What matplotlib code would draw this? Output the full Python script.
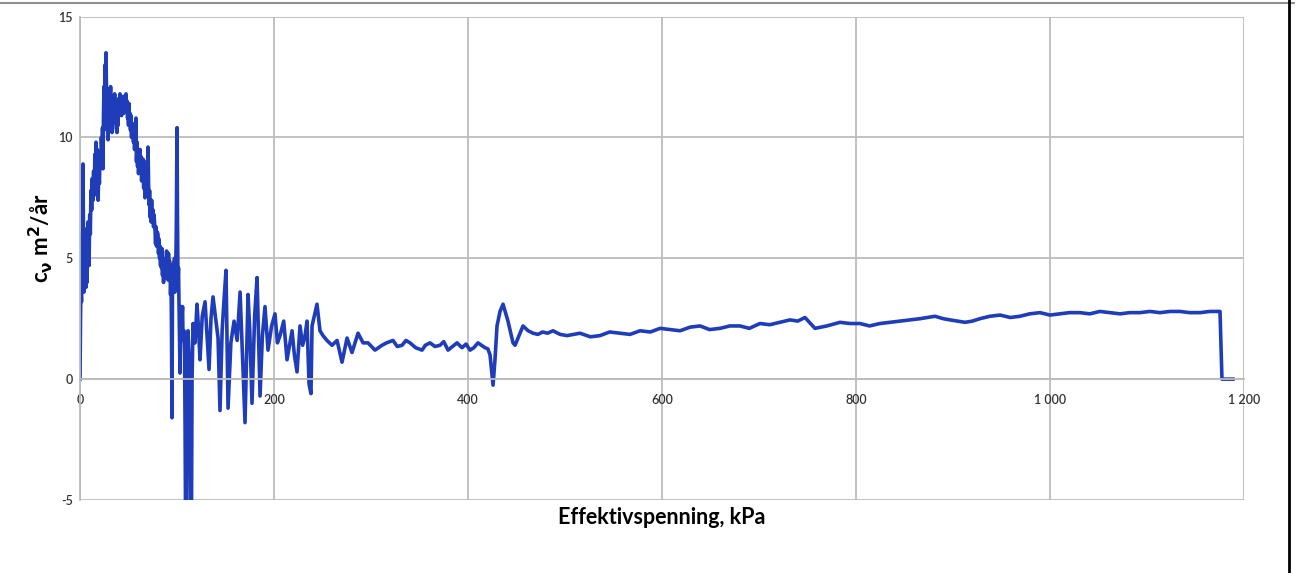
#%% Import modules
import matplotlib.pyplot as plt
from matplotlib.lines import Line2D

#%% Data (effective stress kPa, cv m2/year)
# start of test, steep noisy rise and fall
stress_a = [0, 0.5, 1.0, 1.5, 2.0, 2.6, 3.1, 3.6, 4.1, 4.6, 5.2, 5.7, 6.2, 6.8, 7.2,
            8.2, 8.8, 9.3, 10.0, 10.6, 11.3, 12.0, 12.6, 13.4, 14.0, 14.6, 15.3, 16.0,
            16.5, 17.2, 17.8, 18.6, 19.3, 20.0, 20.6, 21.3, 22.0, 22.7, 23.2, 23.7, 24.2,
            24.7, 25.3, 25.8, 26.3, 26.8, 27.3, 27.8, 28.3, 28.9, 29.4, 29.9, 30.4, 30.9,
            31.5, 32.0, 32.5, 33.0, 33.6, 34.1, 34.6, 35.1, 35.7, 36.2, 36.7, 37.2, 38.1,
            38.7, 39.2, 39.7, 40.2, 41.2, 41.8, 42.3, 42.8, 43.3, 44.3, 44.8, 45.3, 45.8,
            46.4, 47.4, 47.9, 48.5, 49.0, 49.5, 50.0, 50.5, 51.0, 51.5, 52.0, 52.6, 53.1,
            53.6, 54.6, 55.1, 55.7, 56.2, 56.7, 57.7, 58.2, 58.8, 59.3, 59.8, 60.3, 61.0,
            61.9, 62.4, 63.0, 63.5, 64.0, 64.5, 65.0, 65.6, 66.1, 67.0, 67.6, 68.1, 68.6,
            69.1, 70.1, 70.7, 71.2, 71.7, 72.2, 72.8, 73.3, 73.8, 74.3, 75.3, 75.8, 76.3,
            77.3, 77.9, 78.4, 78.9, 79.4, 80.4, 80.9, 81.4, 82.0, 82.5, 83.0, 83.5, 84.0,
            84.5, 85.0, 85.6, 86.1, 86.6, 87.6, 88.2, 88.7, 89.2, 89.7, 90.2, 90.7, 91.2,
            91.7, 92.2, 92.8, 93.3, 93.8, 94.3, 94.8, 95.3, 95.8, 96.4, 96.9, 97.4, 97.9,
            98.5, 99.2, 100.0, 100.5, 101.0, 101.5, 102.0, 102.5, 103.1, 103.6, 104.1,
            104.7, 105.2, 105.7, 106.2, 107.2, 107.8, 108.3, 108.8, 109.8, 110.3, 111.3,
            112.3, 113.4, 114.0, 114.9, 115.5]
cv_a = [0, 2.5, 4.0, 3.2, 6.0, 5.0, 8.9, 5.5, 3.6, 5.8, 4.4, 6.2, 3.8, 5.5, 4.0,
        6.5, 5.4, 4.7, 6.8, 6.0, 7.8, 7.0, 8.3, 7.4, 8.6, 7.6, 9.3, 8.4,
        9.8, 8.6, 9.5, 7.4, 8.5, 8.1, 9.4, 8.8, 10.0, 9.3, 10.4, 8.7, 11.0,
        12.1, 11.3, 13.0, 12.2, 13.5, 12.0, 10.3, 11.2, 9.9, 11.5, 10.6, 12.0, 11.0,
        12.1, 10.9, 11.5, 10.2, 11.2, 10.6, 11.7, 11.0, 11.8, 10.8, 11.4, 10.4, 10.2,
        11.0, 10.5, 11.6, 10.9, 11.8, 11.1, 11.6, 10.9, 11.5, 11.3, 11.7, 11.0, 11.6,
        11.2, 11.8, 11.2, 11.5, 10.8, 11.1, 10.5, 11.4, 10.6, 11.0, 10.3, 10.9, 10.0,
        10.6, 10.5, 9.8, 10.4, 9.5, 10.0, 10.8, 9.0, 9.8, 8.8, 9.4, 8.5, 9.2,
        9.5, 8.6, 9.2, 8.2, 9.0, 8.3, 9.1, 7.9, 8.5, 7.5, 8.3, 7.6, 9.0,
        8.0, 9.6, 8.0, 7.2, 7.8, 6.7, 7.3, 6.5, 7.4, 6.6, 7.0, 6.3, 6.8,
        6.2, 5.6, 6.3, 5.5, 6.1, 6.0, 5.2, 5.8, 5.0, 5.5, 4.7, 5.3, 4.6,
        5.4, 4.3, 4.9, 4.0, 4.7, 4.2, 5.0, 4.4, 5.3, 4.6, 5.0, 4.1, 5.2,
        4.3, 4.9, 4.5, 3.5, 4.2, 2.0, -1.6, 3.5, 4.0, 4.8, 4.2, 5.0, 3.6,
        4.2, 6.0, 10.4, 6.5, 4.0, 4.6, 3.3, 2.0, 0.25, 2.2, 3.0,
        1.6, 2.6, 3.0, 1.6, 2.0, 1.0, -2.0, -5.8, -5.8, 0.5, 2.0,
        1.0, -2.0, -5.8, -5.8, 0.0]

# unstable oscillating part
stress_b = [116.5, 118.5, 120.6, 122.0, 123.7, 126.0, 128.9, 131.0, 133.0, 135.0, 137.1,
            139.5, 142.3, 144.3, 146.5, 148.5, 150.5, 152.6, 155.5, 158.8, 162.0, 165.0,
            167.5, 170.1, 173.2, 175.0, 177.3, 180.0, 182.5, 185.6, 188.0, 190.7, 193.8,
            197.5, 201.0, 203.5, 206.2, 210.0, 213.4, 218.6, 221.0, 223.7, 226.8, 229.5,
            232.0, 234.0, 236.1, 238.1, 239.2, 241.5, 244.3, 247.4]
cv_b = [2.3, 1.5, 3.1, 2.2, 0.8, 2.6, 3.2, 1.8, 0.4, 2.5, 3.4,
        2.6, 1.7, -1.3, 2.0, 3.3, 4.5, -1.2, 1.5, 2.4, 1.6, 3.6,
        1.0, -1.8, 3.5, 2.0, -1.0, 2.6, 4.2, -0.7, 1.8, 3.0, 1.2,
        2.2, 2.7, 1.5, 1.8, 2.4, 0.8, 2.0, 1.0, 0.3, 2.2, 1.4,
        1.8, 2.4, -0.2, -0.6, 2.2, 2.6, 3.1, 2.0]

# settling part and the jump near 430 kPa
stress_c = [250.5, 254.6, 259.8, 265.0, 270.1, 275.3, 280.4, 286.6, 291.8, 296.9, 304.1,
            311.3, 316.0, 322.7, 327.0, 332.0, 336.0, 340.2, 346.0, 352.6, 356.0, 360.8,
            366.0, 371.1, 375.0, 379.4, 384.0, 388.7, 393.8, 398.0, 402.1, 406.0, 410.3,
            414.0, 417.5, 420.5, 422.7, 425.8, 427.8, 429.9, 433.0, 436.1, 441.2, 446.4,
            448.5, 453.6, 456.7, 462.0, 467.0, 472.0, 477.0, 482.0, 487.6, 495.0, 502.1]
cv_c = [1.8, 1.6, 1.4, 1.6, 0.7, 1.7, 1.1, 1.9, 1.5, 1.5, 1.2,
        1.4, 1.5, 1.6, 1.35, 1.4, 1.6, 1.5, 1.3, 1.2, 1.4, 1.5,
        1.35, 1.4, 1.55, 1.2, 1.35, 1.5, 1.3, 1.45, 1.2, 1.3, 1.5,
        1.4, 1.3, 1.25, 1.0, -0.25, 0.8, 2.2, 2.8, 3.1, 2.4, 1.5,
        1.4, 1.9, 2.2, 2.0, 1.9, 1.85, 1.95, 1.9, 2.0, 1.85, 1.8]

# long steady tail, then drop to zero at end of test
stress_d = [515.5, 526.0, 536.1, 546.0, 556.7, 567.0, 577.3, 588.0, 598.0, 608.0, 618.6,
            629.0, 639.2, 649.0, 659.8, 670.0, 680.4, 690.0, 701.0, 711.0, 721.6, 732.0,
            740.0, 747.4, 757.7, 770.0, 783.5, 794.0, 804.1, 814.0, 824.7, 835.0, 845.4,
            856.0, 866.0, 874.0, 881.4, 890.0, 896.9, 912.4, 920.0, 927.8, 938.0, 948.5,
            959.0, 969.1, 979.0, 989.7, 1000.0, 1010.3, 1020.0, 1030.9, 1041.0, 1051.5,
            1062.0, 1072.2, 1082.0, 1092.8, 1103.0, 1113.4, 1124.0, 1134.0, 1144.0,
            1154.6, 1165.0, 1175.3, 1177.3, 1188.7]
cv_d = [1.9, 1.75, 1.8, 1.95, 1.9, 1.85, 2.0, 1.95, 2.1, 2.05, 2.0,
        2.15, 2.2, 2.05, 2.1, 2.2, 2.2, 2.1, 2.3, 2.25, 2.35, 2.45,
        2.4, 2.55, 2.1, 2.2, 2.35, 2.3, 2.3, 2.2, 2.3, 2.35, 2.4,
        2.45, 2.5, 2.55, 2.6, 2.5, 2.45, 2.35, 2.4, 2.5, 2.6, 2.65,
        2.55, 2.6, 2.7, 2.75, 2.65, 2.7, 2.75, 2.75, 2.7, 2.8,
        2.75, 2.7, 2.75, 2.75, 2.8, 2.75, 2.8, 2.8, 2.75,
        2.75, 2.8, 2.8, 0, 0]

stress = stress_a + stress_b + stress_c + stress_d
cv = cv_a + cv_b + cv_c + cv_d

xticks = [0, 200, 400, 600, 800, 1000, 1200]
xticklabels = ["0", "200", "400", "600", "800", "1 000", "1 200"]
yticks = [-5, 0, 5, 10, 15]

#%% Plot
plt.rcParams['font.family'] = ['Lato', 'DejaVu Sans']
plt.rcParams['mathtext.default'] = 'bf'
plt.rcParams['axes.unicode_minus'] = False
gridColor = "#bcbcbc"

fig = plt.figure(figsize=(12.95, 5.73), dpi=100)
ax = fig.add_axes([0.0618, 0.1274, 0.8988, 0.8438])

ax.plot(stress, cv, color="#1f3db8", lw=2.6, solid_joinstyle='round')

ax.set_xlim(0, 1200)
ax.set_ylim(-5, 15)
ax.set_xticks(xticks)
ax.set_xticklabels(xticklabels)
ax.set_yticks(yticks)
ax.grid(True, color=gridColor, lw=1.3)
ax.set_axisbelow(True)

for s in ['top', 'right']:
    ax.spines[s].set_visible(False)
ax.spines['left'].set_color(gridColor)
ax.spines['left'].set_linewidth(1.3)
ax.spines['bottom'].set_position(('data', 0))
ax.spines['bottom'].set_color(gridColor)
ax.spines['bottom'].set_linewidth(1.3)

ax.tick_params(axis='x', length=0, pad=11, labelsize=9, labelcolor="#333333")
ax.tick_params(axis='y', length=0, pad=5, labelsize=9, labelcolor="#333333")
for lab in ax.get_xticklabels() + ax.get_yticklabels():
    lab.set_fontweight('semibold')

fig.text(0.511, 0.097, "Effektivspenning, kPa", ha='center', va='center',
         fontsize=15.5, fontweight='bold')
fig.text(0.031, 0.585, r"c$_\nu$ m$^2$/år", ha='center', va='center',
         rotation=90, fontsize=16, fontweight='bold')

# scanned page frame
fig.add_artist(Line2D([0, 1], [0.995, 0.995], transform=fig.transFigure,
                      color="#909090", lw=1.5))
fig.add_artist(Line2D([0.9955, 0.9955], [0, 1], transform=fig.transFigure,
                      color="black", lw=2))

fig.savefig("out.png", dpi=100)
